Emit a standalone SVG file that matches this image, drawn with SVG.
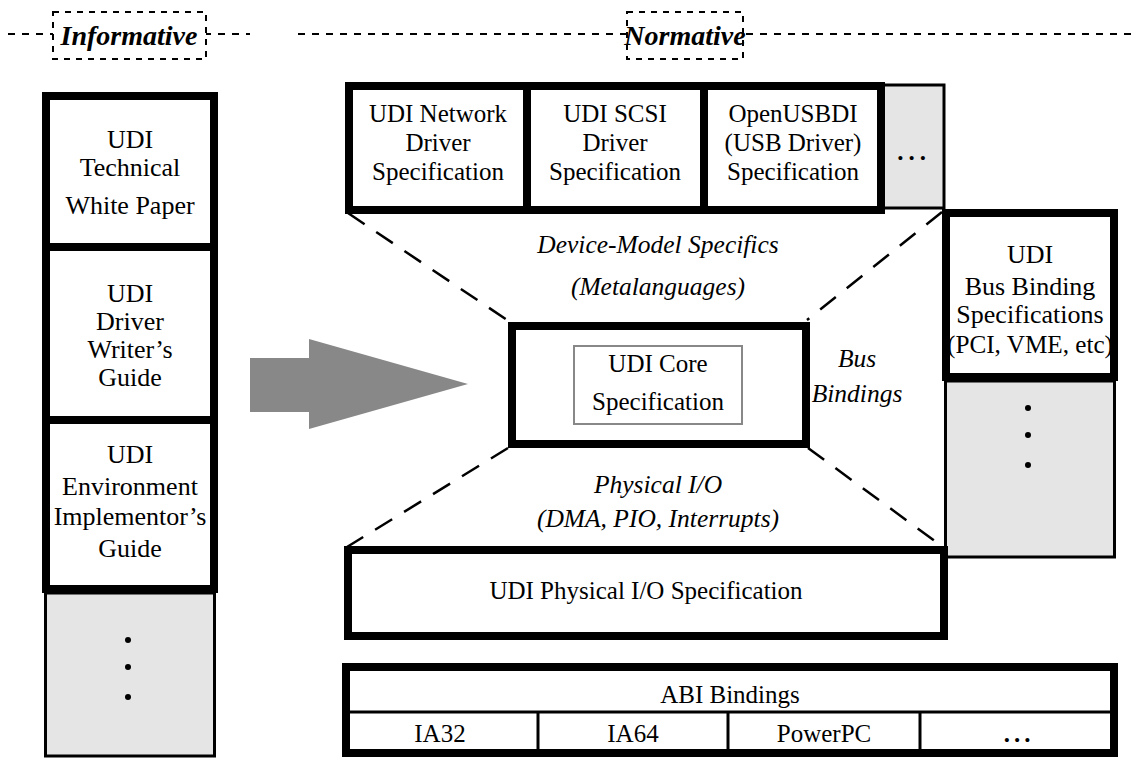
<svg xmlns="http://www.w3.org/2000/svg" width="1133" height="759" viewBox="0 0 1133 759" font-family="'Liberation Serif', 'Times New Roman', serif">
<style>
text{font-family:'Liberation Serif','Times New Roman',serif}
.t{fill:#000;text-anchor:middle}
.lg{font-size:26px}
.md{font-size:25px}
.it{font-style:italic;font-size:25.5px}
.hd{font-style:italic;font-weight:bold;font-size:28px}
.box{fill:#fff;stroke:#000;stroke-width:8}
.gray{fill:#e5e5e5;stroke:#000;stroke-width:3}
.thin{stroke:#000;stroke-width:3;fill:none}
.dash{stroke:#000;stroke-width:2.5;fill:none;stroke-dasharray:20 14}
.hdash{stroke:#000;stroke-width:2;fill:none;stroke-dasharray:7 7}
</style>
<rect width="1133" height="759" fill="#fff"/>

<g id="header">
  <line class="hdash" x1="8" y1="34" x2="250" y2="34"/>
  <line class="hdash" x1="298" y1="34" x2="1133" y2="34"/>
  <rect x="53" y="12" width="153" height="47" fill="#fff" stroke="#000" stroke-width="2" stroke-dasharray="6 6"/>
  <text class="t hd" x="129" y="45">Informative</text>
  <rect x="627" y="12" width="116" height="47" fill="#fff" stroke="#000" stroke-width="2" stroke-dasharray="6 6"/>
  <text class="t hd" x="685" y="45">Normative</text>
</g>

<g id="connectors">
  <line class="dash" x1="348" y1="213" x2="510" y2="322"/>
  <line class="dash" x1="942" y1="212" x2="807" y2="320"/>
  <line class="dash" x1="508" y1="448" x2="347" y2="547"/>
  <line class="dash" x1="808" y1="448" x2="943" y2="547"/>
  <polygon id="arrow" points="250,358 309,358 309,339 468,384 309,429 309,412 250,412" fill="#888"/>
</g>

<g id="white-paper">
  <rect class="box" x="46" y="96" width="168" height="151"/>
  <text class="t lg" x="130" y="148">UDI</text>
  <text class="t lg" x="130" y="176">Technical</text>
  <text class="t lg" x="130" y="214">White Paper</text>
</g>
<g id="writers-guide">
  <rect class="box" x="46" y="247" width="168" height="173"/>
  <text class="t lg" x="130" y="302">UDI</text>
  <text class="t lg" x="130" y="330">Driver</text>
  <text class="t lg" x="130" y="358">Writer’s</text>
  <text class="t lg" x="130" y="386">Guide</text>
</g>
<g id="implementors-guide">
  <rect class="box" x="46" y="420" width="168" height="169"/>
  <text class="t lg" x="130" y="463">UDI</text>
  <text class="t lg" x="130" y="495">Environment</text>
  <text class="t lg" x="130" y="525">Implementor’s</text>
  <text class="t lg" x="130" y="557">Guide</text>
</g>
<g id="informative-more">
  <rect class="gray" x="45.5" y="593" width="169" height="163"/>
  <circle cx="128" cy="640" r="3"/>
  <circle cx="128" cy="667" r="3"/>
  <circle cx="128" cy="697" r="3"/>
</g>

<g id="top-more">
  <rect class="gray" x="880" y="85" width="64" height="123"/>
  <text class="t md" x="914" y="160" font-weight="bold" letter-spacing="5">...</text>
</g>
<g id="network-spec">
  <rect class="box" x="349" y="86" width="178" height="124"/>
  <text class="t md" x="438" y="122">UDI Network</text>
  <text class="t md" x="438" y="151">Driver</text>
  <text class="t md" x="438" y="180">Specification</text>
</g>
<g id="scsi-spec">
  <rect class="box" x="527" y="86" width="177" height="124"/>
  <text class="t md" x="615" y="122">UDI SCSI</text>
  <text class="t md" x="615" y="151">Driver</text>
  <text class="t md" x="615" y="180">Specification</text>
</g>
<g id="usb-spec">
  <rect class="box" x="704" y="86" width="177" height="124"/>
  <text class="t md" x="793" y="122">OpenUSBDI</text>
  <text class="t md" x="793" y="151">(USB Driver)</text>
  <text class="t md" x="793" y="180">Specification</text>
</g>

<g id="bus-binding">
  <rect class="box" x="946" y="213" width="168" height="164"/>
  <text class="t lg" x="1030" y="263">UDI</text>
  <text class="t lg" x="1030" y="295">Bus Binding</text>
  <text class="t lg" x="1030" y="323">Specifications</text>
  <text class="t lg" x="1030" y="353" textLength="166" lengthAdjust="spacingAndGlyphs">(PCI, VME, etc)</text>
</g>
<g id="bus-more">
  <rect class="gray" x="945.5" y="381" width="169" height="176"/>
  <circle cx="1028" cy="408" r="3"/>
  <circle cx="1028" cy="435" r="3"/>
  <circle cx="1028" cy="465" r="3"/>
</g>

<g id="core">
  <rect class="box" x="512" y="326" width="294" height="118"/>
  <rect x="574" y="346" width="168" height="78" fill="#fff" stroke="#888" stroke-width="2"/>
  <text class="t md" x="658" y="372">UDI Core</text>
  <text class="t md" x="658" y="410">Specification</text>
</g>

<g id="labels">
  <text class="t it" x="658" y="253">Device-Model Specifics</text>
  <text class="t it" x="658" y="295">(Metalanguages)</text>
  <text class="t it" x="857" y="367">Bus</text>
  <text class="t it" x="857" y="402">Bindings</text>
  <text class="t it" x="658" y="493">Physical I/O</text>
  <text class="t it" x="658" y="527">(DMA, PIO, Interrupts)</text>
</g>

<g id="physical-io">
  <rect class="box" x="348" y="550" width="596" height="86"/>
  <text class="t md" x="646" y="599">UDI Physical I/O Specification</text>
</g>

<g id="abi">
  <rect class="box" x="346" y="667" width="768" height="86"/>
  <line class="thin" x1="346" y1="712" x2="1114" y2="712"/>
  <line class="thin" x1="538" y1="712" x2="538" y2="753"/>
  <line class="thin" x1="728" y1="712" x2="728" y2="753"/>
  <line class="thin" x1="920" y1="712" x2="920" y2="753"/>
  <text class="t md" x="730" y="703">ABI Bindings</text>
  <text class="t md" x="440" y="742">IA32</text>
  <text class="t md" x="633" y="742">IA64</text>
  <text class="t md" x="824" y="742">PowerPC</text>
  <text class="t md" x="1019" y="742" font-weight="bold" letter-spacing="4">...</text>
</g>
</svg>
